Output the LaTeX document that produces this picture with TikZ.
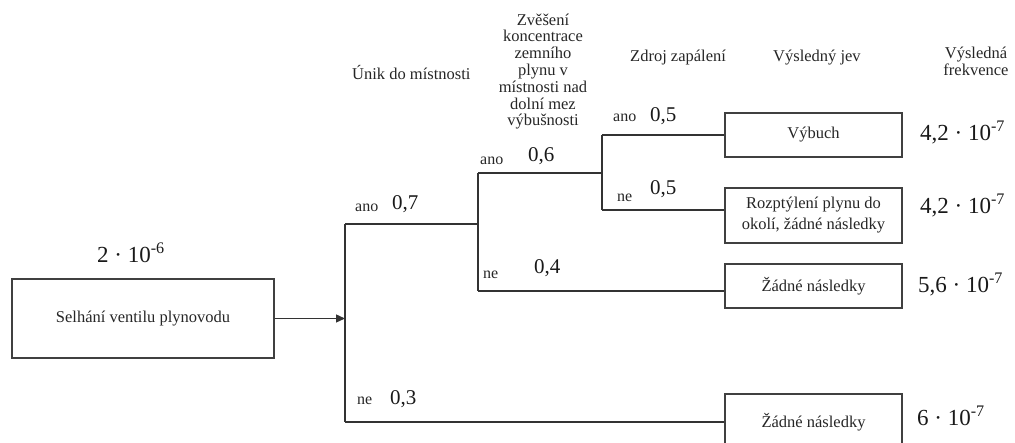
\documentclass[tikz,border=0pt]{standalone}
\usepackage{fontspec}
\setmainfont{Liberation Serif}
\usetikzlibrary{arrows.meta}
\begin{document}
\begin{tikzpicture}[x=1pt,y=-1pt,
  line/.style={draw=black!80,line width=1.3pt},
  box/.style={draw=black!75,line width=1.3pt,fill=white,inner sep=0pt,align=center,font=\fontsize{16.5}{21}\selectfont,text=black!85},
  lbl/.style={inner sep=0pt,anchor=base west,font=\fontsize{16}{18}\selectfont,text=black!85},
  prob/.style={inner sep=0pt,anchor=base west,font=\fontsize{21}{23}\selectfont,text=black!90},
  num/.style={inner sep=0pt,anchor=base west,font=\fontsize{23}{25}\selectfont,text=black!90},
  hdr/.style={inner sep=0pt,anchor=base west,align=center,font=\fontsize{16.5}{16.8}\selectfont,text=black!85}]
\useasboundingbox (0,0) rectangle (1015,443);
% boxes
\node[box,minimum width=262pt,minimum height=79pt] (start) at (143,318.5) {Selhání ventilu plynovodu};
\node[box,minimum width=177pt,minimum height=44pt] (vyb) at (813.5,135) {Výbuch};
\node[box,minimum width=177pt,minimum height=55pt] (roz) at (813.5,215.5) {Rozptýlení plynu do\\okolí, žádné následky};
\node[box,minimum width=177pt,minimum height=44pt] (z1) at (813.5,286) {Žádné následky};
\node[box,minimum width=177pt,minimum height=56pt] (z2) at (813.5,422) {Žádné následky};
% branch points
\coordinate (a) at (345,224);
\coordinate (n) at (345,422);
\coordinate (b) at (478,224);
\coordinate (bt) at (478,173);
\coordinate (bb) at (478,291);
\coordinate (c) at (602,173);
\coordinate (ct) at (602,135);
\coordinate (cb) at (602,210);
% connectors
\draw[line,-{Triangle[length=9pt,width=8pt]}] (start.east) -- (start.east -| a);
\draw[line] (a) -- (n);
\draw[line] (a) -- (b);
\draw[line] (bt) -- (bb);
\draw[line] (bb) -- (bb -| z1.west);
\draw[line] (bt) -- (c);
\draw[line] (ct) -- (cb);
\draw[line] (ct) -- (ct -| vyb.west);
\draw[line] (cb) -- (cb -| roz.west);
\draw[line] (n) -- (n -| z2.west);
% headers
\node[hdr] (h1) at (352,80) {Únik do místnosti};
\node[hdr,anchor=center] (h2) at (543,71.5) {Zvěšení\\koncentrace\\zemního\\plynu v\\místnosti nad\\dolní mez\\výbušnosti};
\node[hdr] (h3) at (630,62) {Zdroj zapálení};
\node[hdr] (h4) at (773,62) {Výsledný jev};
\node[hdr,anchor=center] (h5) at (976,61) {Výsledná\\frekvence};
% branch labels
\node[lbl] (la1) at (355,212) {ano};
\node[prob] (pa1) at (392,210) {0,7};
\node[lbl] (ln1) at (357,405) {ne};
\node[prob] (pn1) at (390,405) {0,3};
\node[lbl] (la2) at (480,165) {ano};
\node[prob] (pa2) at (528,162) {0,6};
\node[lbl] (ln2) at (483,279) {ne};
\node[prob] (pn2) at (534,274) {0,4};
\node[lbl] (la3) at (613,122) {ano};
\node[prob] (pa3) at (650,122) {0,5};
\node[lbl] (ln3) at (617,202) {ne};
\node[prob] (pn3) at (650,195) {0,5};
% frequencies
\node[num] (f0) at (97,263) {2 · 10\textsuperscript{-6}};
\node[num] (f1) at (920,141) {4,2 · 10\textsuperscript{-7}};
\node[num] (f2) at (920,214) {4,2 · 10\textsuperscript{-7}};
\node[num] (f3) at (918,293) {5,6 · 10\textsuperscript{-7}};
\node[num] (f4) at (917,426) {6 · 10\textsuperscript{-7}};
\end{tikzpicture}
\end{document}
